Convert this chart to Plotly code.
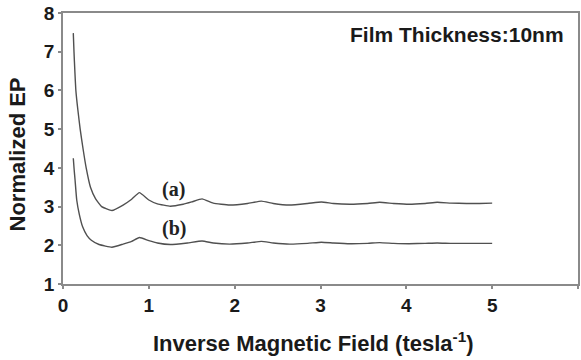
import plotly.graph_objects as go

# Normalized EP versus inverse magnetic field, film thickness 10 nm
x_a = [0.12, 0.128, 0.138, 0.15, 0.173, 0.20, 0.233, 0.27, 0.32, 0.38, 0.45,
       0.57, 0.70, 0.80, 0.89, 1.00, 1.10, 1.25, 1.40, 1.50, 1.62, 1.75, 1.94,
       2.15, 2.31, 2.45, 2.64, 2.85, 3.01, 3.15, 3.34, 3.55, 3.69, 3.85, 4.03,
       4.22, 4.36, 4.52, 4.70, 4.85, 5.00]
y_a = [7.48, 7.00, 6.50, 6.00, 5.50, 5.00, 4.50, 4.00, 3.50, 3.20, 3.00,
       2.90, 3.04, 3.19, 3.36, 3.17, 3.07, 3.01, 3.06, 3.12, 3.20, 3.09, 3.04,
       3.08, 3.14, 3.08, 3.04, 3.08, 3.12, 3.08, 3.06, 3.08, 3.11, 3.08, 3.06,
       3.08, 3.11, 3.09, 3.08, 3.08, 3.09]

x_b = [0.12, 0.13, 0.14, 0.16, 0.19, 0.23, 0.28, 0.33, 0.42, 0.57, 0.70, 0.80,
       0.89, 1.00, 1.10, 1.25, 1.45, 1.62, 1.75, 1.94, 2.15, 2.31, 2.45, 2.64,
       2.85, 3.01, 3.15, 3.34, 3.55, 3.69, 3.85, 4.03, 4.22, 4.36, 4.52, 4.70,
       4.85, 5.00]
y_b = [4.25, 3.95, 3.70, 3.17, 2.80, 2.47, 2.25, 2.13, 2.02, 1.95, 2.03, 2.10,
       2.20, 2.12, 2.06, 2.02, 2.06, 2.11, 2.06, 2.03, 2.06, 2.10, 2.06, 2.03,
       2.05, 2.08, 2.06, 2.04, 2.05, 2.07, 2.05, 2.04, 2.05, 2.06, 2.05, 2.05,
       2.05, 2.05]

x_ticks = [0, 1, 2, 3, 4, 5, 6]
y_ticks = [1, 2, 3, 4, 5, 6, 7, 8]

curve_labels = ["(a)", "(b)"]
label_x = [1.29, 1.29]
label_y = [3.45, 2.44]

LINE = "#505050"
AXIS = "#8a8a8a"
TEXT = "#1a1a1a"
SANS = "Liberation Sans, Arial, sans-serif"
SERIF = "Liberation Serif, Times New Roman, serif"

fig = go.Figure()
for xs, ys in [(x_a, y_a), (x_b, y_b)]:
    fig.add_trace(go.Scatter(
        x=xs, y=ys, mode="lines",
        line=dict(color=LINE, width=1.4, shape="spline", smoothing=0.4),
        showlegend=False, hoverinfo="skip",
    ))

for txt, lx, ly in zip(curve_labels, label_x, label_y):
    fig.add_annotation(x=lx, y=ly, text=txt, showarrow=False,
                       font=dict(family=SERIF, size=20, color="#222", weight="bold"))

fig.add_annotation(x=1, xref="paper", xanchor="right", xshift=-12,
                   y=1, yref="paper", yanchor="top", yshift=-8,
                   text="Film Thickness:10nm", showarrow=False,
                   font=dict(family=SANS, size=21, color=TEXT, weight="bold"))

# axis titles placed as paper annotations
fig.add_annotation(x=0, xref="paper", xshift=-46, xanchor="center",
                   y=0.5, yref="paper", yshift=-6, yanchor="middle",
                   text="Normalized EP", textangle=-90, showarrow=False,
                   font=dict(family=SANS, size=22, color=TEXT, weight="bold"))
fig.add_annotation(x=0.5, xref="paper", xshift=-7, xanchor="center",
                   y=0, yref="paper", yshift=-42, yanchor="top",
                   text="Inverse Magnetic Field (tesla<sup>-1</sup>)", showarrow=False,
                   font=dict(family=SANS, size=22, color=TEXT, weight="bold"))

fig.update_layout(
    width=581, height=360,
    margin=dict(l=63, r=1, t=13, b=76),
    paper_bgcolor="white", plot_bgcolor="white",
    font=dict(family=SANS, color=TEXT),
    xaxis=dict(
        range=[0, 6], tickvals=x_ticks, ticks="outside", ticklen=3,
        tickcolor=AXIS, tickwidth=1.5,
        showline=True, linecolor=AXIS, linewidth=1.5, mirror=True,
        showgrid=False, zeroline=False,
        tickfont=dict(size=19, weight="bold", color=TEXT),
    ),
    yaxis=dict(
        range=[1, 8], tickvals=y_ticks, ticks="outside", ticklen=3,
        tickcolor=AXIS, tickwidth=1.5,
        showline=True, linecolor=AXIS, linewidth=1.5, mirror=True,
        showgrid=False, zeroline=False,
        tickfont=dict(size=19, weight="bold", color=TEXT),
    ),
)

fig.write_html("out.html")
